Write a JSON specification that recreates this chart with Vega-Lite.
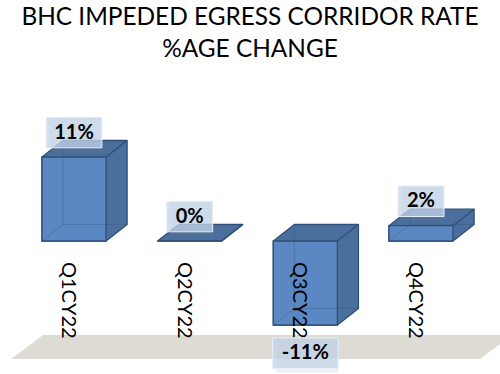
{
  "$schema": "https://vega.github.io/schema/vega-lite/v6.json",
  "width": 500,
  "height": 304,
  "padding": {"top": 70, "left": 0, "right": 0, "bottom": 0},
  "autosize": {"type": "none"},
  "background": "white",
  "config": {"view": {"stroke": null}},
  "title": {
    "text": ["BHC IMPEDED EGRESS CORRIDOR RATE", "%AGE CHANGE"],
    "font": "Lato",
    "fontSize": 24.4,
    "fontWeight": "normal",
    "color": "#000000",
    "anchor": "middle",
    "frame": "group",
    "lineHeight": 32,
    "offset": 8
  },
  "data": {
    "values": [
      {"quarter": "Q1CY22", "change": 0.11},
      {"quarter": "Q2CY22", "change": 0.0},
      {"quarter": "Q3CY22", "change": -0.11},
      {"quarter": "Q4CY22", "change": 0.02}
    ]
  },
  "transform": [
    {"window": [{"op": "row_number", "as": "n"}]},
    {"calculate": "datum.n - 1", "as": "i"},
    {"calculate": "datum.i - 0.277", "as": "L"},
    {"calculate": "datum.i + 0.277", "as": "R"},
    {"calculate": "datum.L + 0.182", "as": "Ld"},
    {"calculate": "datum.R + 0.182", "as": "Rd"},
    {"calculate": "max(datum.change, 0)", "as": "T"},
    {"calculate": "min(datum.change, 0)", "as": "B"},
    {"calculate": "datum.T + 0.0216", "as": "Tb"},
    {"calculate": "datum.B + 0.0216", "as": "Bb"},
    {"calculate": "(datum.change < 0 ? '-' : '') + format(abs(datum.change), '.0%')", "as": "lab"},
    {"calculate": "datum.change >= 0 ? datum.T + 0.032 : datum.B - 0.037", "as": "ly"},
    {"calculate": "0.115 + 0.042 * length(datum.lab)", "as": "hw"},
    {"calculate": "datum.i - datum.hw", "as": "bx1"},
    {"calculate": "datum.i + datum.hw", "as": "bx2"},
    {"calculate": "datum.ly - 0.02", "as": "by1"},
    {"calculate": "datum.ly + 0.02", "as": "by2"}
  ],
  "layer": [
    {
      "transform": [
        {"joinaggregate": [{"op": "min", "field": "i", "as": "i0"}, {"op": "max", "field": "i", "as": "i1"}]},
        {"filter": "datum.n == 1"},
        {"calculate": "[0, 1, 2, 3]", "as": "k"},
        {"flatten": ["k"]},
        {"calculate": "datum.k == 0 ? datum.i0 - 0.545 : datum.k == 1 ? datum.i0 - 0.268 : datum.k == 2 ? datum.i1 + 0.51 : datum.i1 + 0.787", "as": "fx"},
        {"calculate": "datum.k == 0 ? -0.1545 : -0.1231", "as": "ftop"},
        {"calculate": "datum.k == 3 ? -0.1231 : -0.1545", "as": "fbot"}
      ],
      "mark": {"type": "area", "fill": "#dedbd5"},
      "encoding": {
        "x": {"field": "fx", "type": "quantitative", "scale": {"domain": [-0.64, 3.683]}, "axis": null},
        "y": {"field": "ftop", "type": "quantitative", "scale": {"domain": [-0.1742, 0.2239], "nice": false, "zero": false}, "axis": null},
        "y2": {"field": "fbot"}
      }
    },
    {
      "transform": [
        {"calculate": "[0, 1, 2, 3]", "as": "k"},
        {"flatten": ["k"]},
        {"calculate": "datum.k == 0 ? datum.L : datum.k == 1 ? datum.Ld : datum.k == 2 ? datum.R : datum.Rd", "as": "vx"},
        {"calculate": "datum.k == 0 ? datum.T : datum.Tb", "as": "vtop"},
        {"calculate": "datum.k == 3 ? datum.Bb : datum.B", "as": "vbot"}
      ],
      "mark": {"type": "area", "fill": "#4b6f9d", "stroke": "#2f4f78", "strokeWidth": 1.3, "strokeJoin": "round"},
      "encoding": {
        "x": {"field": "vx", "type": "quantitative", "scale": {"domain": [-0.64, 3.683]}, "axis": null},
        "y": {"field": "vtop", "type": "quantitative", "scale": {"domain": [-0.1742, 0.2239], "nice": false, "zero": false}, "axis": null},
        "y2": {"field": "vbot"},
        "detail": {"field": "quarter"}
      }
    },
    {
      "mark": {"type": "rect", "fill": "#5b87c2", "stroke": "#2f4f78", "strokeWidth": 1.3},
      "encoding": {
        "x": {"field": "L", "type": "quantitative", "scale": {"domain": [-0.64, 3.683]}, "axis": null},
        "x2": {"field": "R"},
        "y": {"field": "T", "type": "quantitative", "scale": {"domain": [-0.1742, 0.2239], "nice": false, "zero": false}, "axis": null},
        "y2": {"field": "B"}
      }
    },
    {
      "mark": {"type": "rule", "stroke": "#2f4f78", "strokeWidth": 1, "opacity": 0.3},
      "encoding": {
        "x": {"field": "Ld", "type": "quantitative", "scale": {"domain": [-0.64, 3.683]}, "axis": null},
        "x2": {"field": "Ld"},
        "y": {"field": "Tb", "type": "quantitative", "scale": {"domain": [-0.1742, 0.2239], "nice": false, "zero": false}, "axis": null},
        "y2": {"field": "Bb"}
      }
    },
    {
      "mark": {"type": "rule", "stroke": "#2f4f78", "strokeWidth": 1, "opacity": 0.3},
      "encoding": {
        "x": {"field": "Ld", "type": "quantitative", "scale": {"domain": [-0.64, 3.683]}, "axis": null},
        "x2": {"field": "Rd"},
        "y": {"field": "Bb", "type": "quantitative", "scale": {"domain": [-0.1742, 0.2239], "nice": false, "zero": false}, "axis": null},
        "y2": {"field": "Bb"}
      }
    },
    {
      "mark": {"type": "rule", "stroke": "#2f4f78", "strokeWidth": 1, "opacity": 0.3},
      "encoding": {
        "x": {"field": "L", "type": "quantitative", "scale": {"domain": [-0.64, 3.683]}, "axis": null},
        "x2": {"field": "Ld"},
        "y": {"field": "B", "type": "quantitative", "scale": {"domain": [-0.1742, 0.2239], "nice": false, "zero": false}, "axis": null},
        "y2": {"field": "Bb"}
      }
    },
    {
      "mark": {"type": "rule", "stroke": "#2f4f78", "strokeWidth": 1.3},
      "encoding": {
        "x": {"field": "R", "type": "quantitative", "scale": {"domain": [-0.64, 3.683]}, "axis": null},
        "x2": {"field": "Rd"},
        "y": {"field": "T", "type": "quantitative", "scale": {"domain": [-0.1742, 0.2239], "nice": false, "zero": false}, "axis": null},
        "y2": {"field": "Tb"}
      }
    },
    {
      "mark": {"type": "text", "font": "Lato", "fontSize": 20, "angle": 90, "align": "left", "baseline": "middle", "dx": 21, "dy": 6, "color": "#000000"},
      "encoding": {
        "x": {"field": "i", "type": "quantitative", "scale": {"domain": [-0.64, 3.683]}, "axis": null},
        "y": {"datum": 0, "type": "quantitative", "scale": {"domain": [-0.1742, 0.2239], "nice": false, "zero": false}, "axis": null},
        "text": {"field": "quarter"}
      }
    },
    {
      "mark": {"type": "rect", "fill": "#7f7f7f", "opacity": 0.12, "xOffset": 4, "yOffset": 4},
      "encoding": {
        "x": {"field": "bx1", "type": "quantitative", "scale": {"domain": [-0.64, 3.683]}, "axis": null},
        "x2": {"field": "bx2"},
        "y": {"field": "by1", "type": "quantitative", "scale": {"domain": [-0.1742, 0.2239], "nice": false, "zero": false}, "axis": null},
        "y2": {"field": "by2"}
      }
    },
    {
      "mark": {"type": "rect", "fill": "#c3d4ea", "fillOpacity": 0.75, "stroke": "#e8eff8", "strokeWidth": 1},
      "encoding": {
        "x": {"field": "bx1", "type": "quantitative", "scale": {"domain": [-0.64, 3.683]}, "axis": null},
        "x2": {"field": "bx2"},
        "y": {"field": "by1", "type": "quantitative", "scale": {"domain": [-0.1742, 0.2239], "nice": false, "zero": false}, "axis": null},
        "y2": {"field": "by2"}
      }
    },
    {
      "mark": {"type": "text", "font": "Lato", "fontSize": 20, "fontWeight": "bold", "align": "center", "baseline": "middle", "color": "#000000"},
      "encoding": {
        "x": {"field": "i", "type": "quantitative", "scale": {"domain": [-0.64, 3.683]}, "axis": null},
        "y": {"field": "ly", "type": "quantitative", "scale": {"domain": [-0.1742, 0.2239], "nice": false, "zero": false}, "axis": null},
        "text": {"field": "lab"}
      }
    }
  ]
}
